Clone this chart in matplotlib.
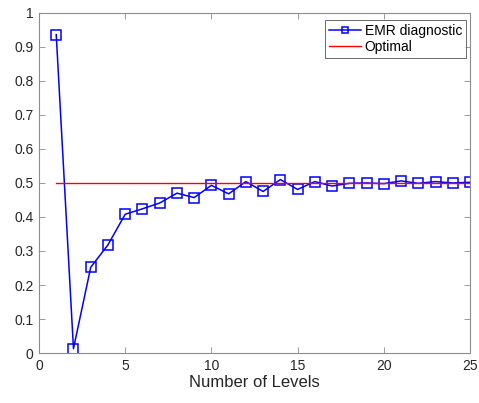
import numpy as np
import matplotlib.pyplot as plt

levels = list(range(1, 26))
emr = [0.936, 0.013, 0.252, 0.318, 0.408, 0.424, 0.441, 0.470, 0.457, 0.493,
       0.468, 0.504, 0.475, 0.510, 0.481, 0.504, 0.491, 0.499, 0.500, 0.498,
       0.506, 0.499, 0.504, 0.500, 0.502]
optimal = [0.5] * len(levels)

x_ticks = [0, 5, 10, 15, 20, 25]
y_ticks = [0, 0.1, 0.2, 0.3, 0.4, 0.5, 0.6, 0.7, 0.8, 0.9, 1]
y_labels = ["0", "0.1", "0.2", "0.3", "0.4", "0.5", "0.6", "0.7", "0.8", "0.9", "1"]

plt.rcParams['font.family'] = ['Liberation Sans', 'DejaVu Sans']

fig = plt.figure(figsize=(4.79, 4.03), dpi=100)
ax = fig.add_axes([0.0814, 0.124, 0.8998, 0.844])

ax.plot(levels, emr, color='#0000ff', lw=1.1, marker='s', markersize=6.5,
        markerfacecolor='none', markeredgecolor='#0000ff', markeredgewidth=1.1,
        label='EMR diagnostic')
ax.plot(levels, optimal, color='#ff0000', lw=1.0, label='Optimal')

ax.set_xlim(0, 25)
ax.set_ylim(0, 1)
ax.set_xticks(x_ticks)
ax.set_yticks(y_ticks)
ax.set_yticklabels(y_labels)
ax.set_xlabel('Number of Levels', fontsize=12, color='#262626', labelpad=2)

axis_grey = '#8c8c8c'
for s in ax.spines.values():
    s.set_color(axis_grey)
    s.set_linewidth(0.8)
ax.tick_params(direction='in', length=4, width=0.6, color=axis_grey,
               labelsize=10, labelcolor='#262626', top=True, right=True, pad=4)

leg = ax.legend(loc='upper right', bbox_to_anchor=(0.99, 0.979), fontsize=10,
                frameon=True, fancybox=False, borderpad=0.25, handlelength=2.3,
                handletextpad=0.3, labelspacing=0.2, borderaxespad=0,
                markerscale=0.65)
leg.get_frame().set_edgecolor('#262626')
leg.get_frame().set_linewidth(0.6)

fig.savefig('out.png', dpi=100)
